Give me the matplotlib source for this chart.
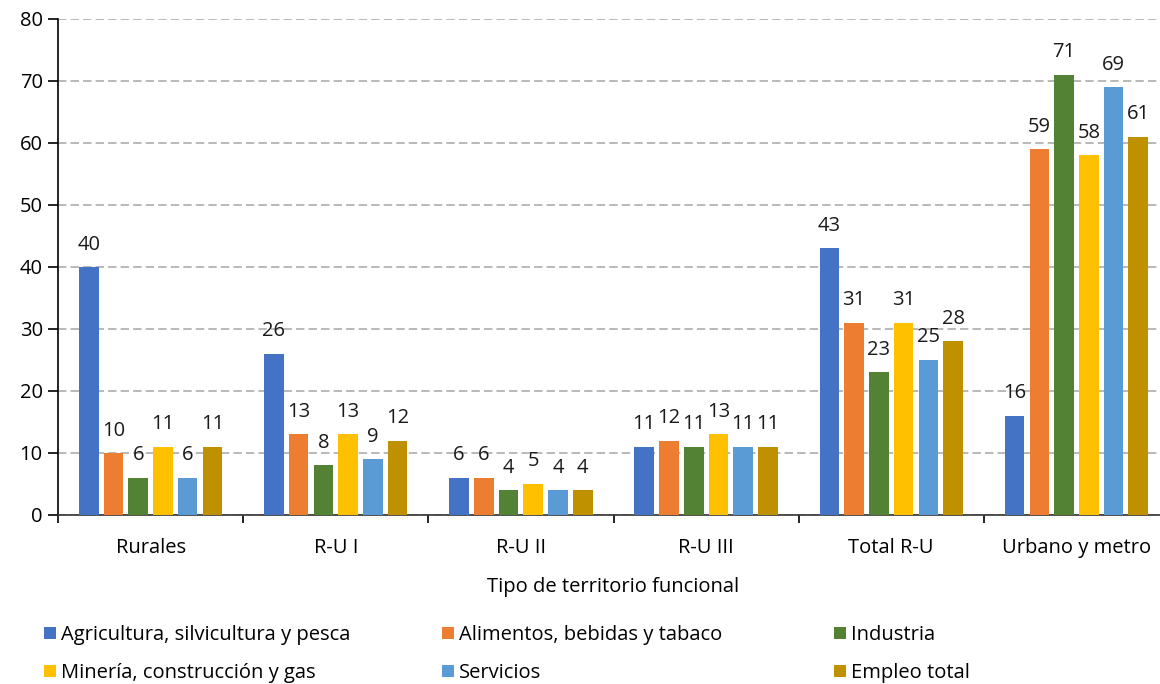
import numpy as np
import matplotlib
matplotlib.use('Agg')
import matplotlib.pyplot as plt
from matplotlib.patches import Patch

plt.rcParams['font.family'] = ['Open Sans', 'DejaVu Sans']

categories = ['Rurales', 'R-U I', 'R-U II', 'R-U III', 'Total R-U', 'Urbano y metro']
series_names = ['Agricultura, silvicultura y pesca', 'Alimentos, bebidas y tabaco',
                'Industria', 'Minería, construcción y gas', 'Servicios', 'Empleo total']
agricultura = [40, 26, 6, 11, 43, 16]
alimentos = [10, 13, 6, 12, 31, 59]
industria = [6, 8, 4, 11, 23, 71]
mineria = [11, 13, 5, 13, 31, 58]
servicios = [6, 9, 4, 11, 25, 69]
empleo = [11, 12, 4, 11, 28, 61]
series = [agricultura, alimentos, industria, mineria, servicios, empleo]
colors = ['#4472C4', '#ED7D31', '#548235', '#FFC000', '#5B9BD5', '#BF9000']

FS = 14.5
W, H = 1160, 684
fig = plt.figure(figsize=(W / 100, H / 100), dpi=100)
ax = fig.add_axes([58 / W, 1 - 515 / H, (1169 - 58) / W, (515 - 19) / H])

x = np.arange(len(categories))
step = 0.1335
width = 0.106
handles = []
for i, (vals, col) in enumerate(zip(series, colors)):
    pos = x + (i - 2.5) * step
    bars = ax.bar(pos, vals, width=width, color=col, zorder=3)
    for b, v in zip(bars, vals):
        ax.annotate(str(v), (b.get_x() + b.get_width() / 2, v), xytext=(0, 9),
                    textcoords='offset points', ha='center', va='bottom',
                    fontsize=FS, color='#1a1a1a', zorder=4)
    handles.append(Patch(facecolor=col, label=series_names[i]))

ax.set_xlim(-0.5, len(categories) - 0.5)
ax.set_ylim(0, 80)
ax.set_yticks(range(0, 81, 10))
ax.yaxis.grid(True, color='#A6A6A6', linewidth=1.1, linestyle=(0, (5.5, 2.7)), zorder=0)
ax.set_axisbelow(True)

# category boundaries as major ticks, names as minor ticks
ax.set_xticks(np.arange(-0.5, len(categories), 1.0))
ax.set_xticklabels([])
ax.set_xticks(x, minor=True)
ax.set_xticklabels(categories, minor=True, fontsize=FS)
ax.tick_params(axis='x', which='minor', length=0, pad=16.5)
ax.tick_params(axis='x', which='major', length=6, width=1.2, direction='out')
ax.tick_params(axis='y', length=7, width=1.2, labelsize=FS, pad=4)
ax.set_xlabel('Tipo de territorio funcional', fontsize=FS, labelpad=13.5)

for s in ['top', 'right']:
    ax.spines[s].set_visible(False)
ax.spines['left'].set_linewidth(1.2)
ax.spines['bottom'].set_linewidth(1.2)
ax.spines['bottom'].set_color('#333333')

col_x = [44, 442, 834]
for j in range(3):
    hs = [handles[j], handles[j + 3]]
    fig.legend(handles=hs, loc='upper left', bbox_to_anchor=(col_x[j] / W, 1 - 625 / H),
               frameon=False, fontsize=FS, handlelength=0.6, handleheight=0.6,
               handletextpad=0.25, labelspacing=0.9, borderaxespad=0, borderpad=0)

fig.savefig('out.png', dpi=100)
